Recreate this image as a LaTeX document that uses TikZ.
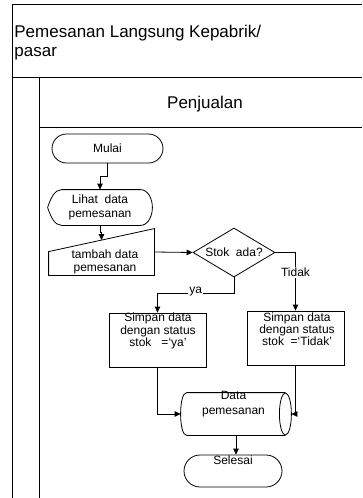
\documentclass[tikz,border=0pt]{standalone}
\usepackage{fontspec}
\setmainfont{Liberation Sans}
\usetikzlibrary{shapes.geometric,shapes.misc,arrows.meta,calc}
\begin{document}
\begin{tikzpicture}[x=1pt,y=-1pt,line width=0.8pt,
    >={Triangle[length=6pt,width=5.5pt]},
    every node/.style={inner sep=0pt,align=center,font=\fontsize{12}{14}\selectfont},
    lane/.style={line width=1pt},
    terminal/.style={draw,rounded rectangle},
    process/.style={draw,minimum width=97pt,minimum height=54pt},
    tight/.style={font=\fontsize{12}{10.5}\selectfont},
    branch/.style={fill=white,inner sep=1pt}]
  \useasboundingbox (0,0) rectangle (362,498);
  \draw[lane] (362,4) -- (12,4) -- (12,498);
  \draw[lane] (12,77) -- (362,77);
  \draw[lane] (39.5,77) -- (39.5,498);
  \draw[lane] (39.5,127) -- (362,127);
  \node[anchor=north west,align=left,font=\fontsize{17}{18.5}\selectfont] (pool) at (14,25)
    {Pemesanan Langsung Kepabrik/\\pasar};
  \node[anchor=base,font=\fontsize{17}{18}\selectfont] (lane) at (205,108) {Penjualan};

  \node[terminal,minimum width=111pt,minimum height=29pt] (mulai) at (107.5,148.5) {Mulai};
  \node[minimum width=104pt,minimum height=35pt] (lihat) at (100,207.5) {Lihat\ \ data\\pemesanan};
  \draw (lihat.west) .. controls ++(3,-9) and ++(-7,0) .. ($(lihat.north west)+(14,0)$)
    -- ($(lihat.north east)+(-12,0)$) .. controls ++(8,0) and ++(0,-8) .. (lihat.east)
    .. controls ++(0,8) and ++(8,0) .. ($(lihat.south east)+(-12,0)$)
    -- ($(lihat.south west)+(14,0)$) .. controls ++(-7,0) and ++(3,9) .. (lihat.west);
  \node[minimum width=105pt,minimum height=46pt] (tambah) at (101.5,252) {};
  \coordinate (tambahtop) at ($(tambah.north west)+(0,23)$);
  \coordinate (tambahin) at ($(tambahtop)!0.5!(tambah.north east)$);
  \draw (tambah.south west) -- (tambah.south east) -- (tambah.north east) -- (tambahtop) -- cycle;
  \node[font=\fontsize{12}{13}\selectfont] (tambahtext) at (105,262) {tambah data\\pemesanan};
  \node[draw,diamond,aspect=2,minimum width=82pt,minimum height=49pt] (stok) at (234,252.5) {Stok\ \ ada?};
  \node[process] (simpanya) at (157.5,340) {};
  \node[tight] (simpanyatext) at (158,331) {Simpan data\\dengan status\\stok\ \ \ =‘ya’};
  \node[process] (simpantidak) at (295.5,338) {};
  \node[tight] (simpantidaktext) at (297,329) {Simpan data\\dengan status\\stok\ \ =‘Tidak’};
  \node[minimum width=110pt,minimum height=42pt] (data) at (236,414) {};
  \draw ($(data.north west)+(6,0)$) -- ($(data.north east)+(-6,0)$)
    ($(data.south west)+(6,0)$) -- ($(data.south east)+(-6,0)$)
    ($(data.north west)+(6,0)$) .. controls ++(-8,0) and ++(-8,0) .. ($(data.south west)+(6,0)$);
  \draw ($(data.east)+(-6,0)$) ellipse [x radius=6,y radius=21];
  \node[font=\fontsize{12}{15}\selectfont] (datatext) at (233.5,404) {Data\\pemesanan};
  \node[terminal,minimum width=98pt,minimum height=32pt] (selesai) at (233,471) {};
  \node (selesaitext) at (233,460) {Selesai};

  \begin{scope}[->]
    \draw (mulai.south) -- ++(0,13) -| (lihat.north);
    \draw (lihat.south) -- ++(0,7) -| (tambahin);
    \draw (tambah.east) -- (stok.west);
    \draw (stok.east) -| node[branch,pos=0.67] (tidak) {Tidak} (simpantidak.north);
    \draw (stok.south) -- ++(0,16) -| node[branch,pos=0.25,yshift=2pt] (ya) {ya} (simpanya.north);
    \draw (simpanya.south) |- (data.west);
    \draw (simpantidak.south) |- (data.east);
    \draw (data.south) -- (data.south |- selesai.north);
  \end{scope}
\end{tikzpicture}
\end{document}
